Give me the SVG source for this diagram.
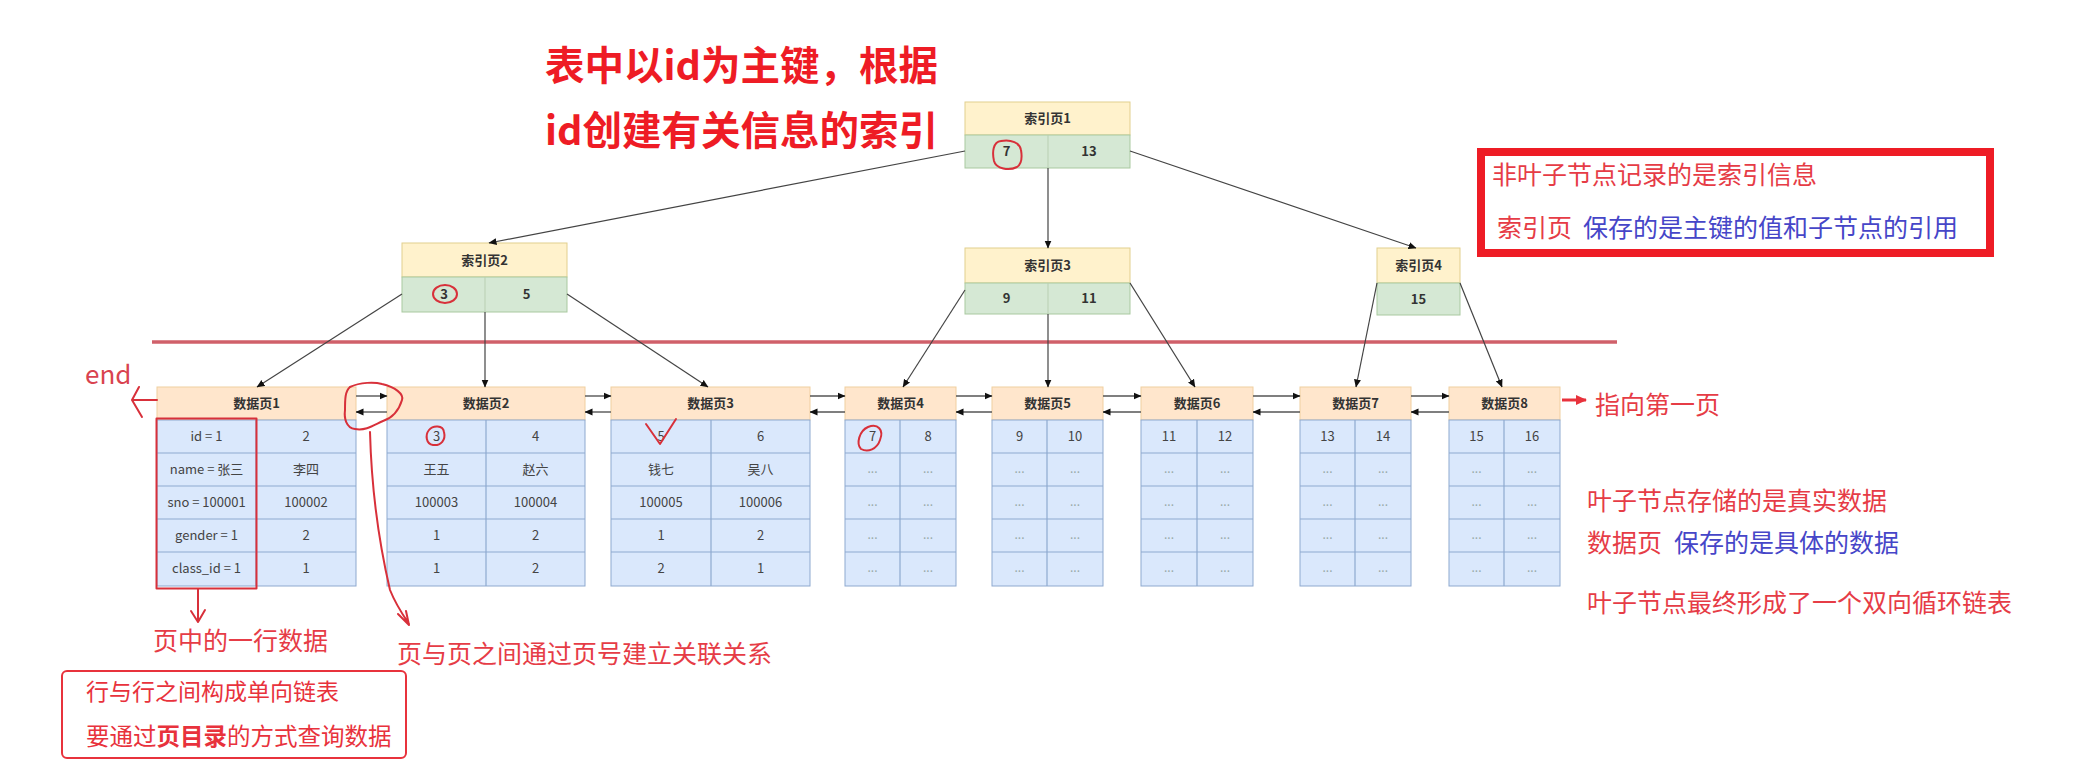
<svg xmlns="http://www.w3.org/2000/svg" width="2086" height="776" viewBox="0 0 2086 776">
<style>
text{font-family:"Noto Sans CJK SC","Liberation Sans",sans-serif}
.ih{fill:#fff2cc;stroke:#e2cf8e;stroke-width:1}
.ir{fill:#d5e8d4;stroke:#a9c9a0;stroke-width:1}
.dh{fill:#ffe6cc;stroke:#f0cfa0;stroke-width:1}
.dr{fill:#dae8fc;stroke:#8ea9cf;stroke-width:1}
.dl{stroke:#8ea9cf;stroke-width:1.2}
.il{stroke:#b9cfb2;stroke-width:1}
.ht{font-size:13px;font-weight:bold;fill:#333;text-anchor:middle}
.ct{font-size:13px;fill:#444;text-anchor:middle}
.it{font-size:13px;font-weight:bold;fill:#333;text-anchor:middle}
.dots{font-size:12px;fill:#9aa;text-anchor:middle}
.tree{stroke:#444;stroke-width:1.2;fill:none}
.link{stroke:#555;stroke-width:1.4;fill:none}
.ann{font-size:25px;fill:#e63c46}
.blue{font-size:25px;fill:#4646c8}
.mark{stroke:#d8303a;stroke-width:2;fill:none;stroke-linecap:round;stroke-linejoin:round}
.title{font-size:39.5px;font-weight:bold;fill:#ee1c25}
</style>
<defs>
<marker id="ah" markerWidth="8" markerHeight="8" refX="7.5" refY="4" orient="auto" markerUnits="userSpaceOnUse"><path d="M0,0.5 L8,4 L0,7.5 z" fill="#111"/></marker>
<marker id="rah" markerWidth="12" markerHeight="12" refX="10" refY="6" orient="auto" markerUnits="userSpaceOnUse"><path d="M0,1 L11,6 L0,11 z" fill="#e8323c"/></marker>
</defs>
<rect width="2086" height="776" fill="#ffffff"/>

<g id="title">
<text class="title" x="545" y="80">表中以id为主键，根据</text>
<text class="title" x="545" y="145">id创建有关信息的索引</text>
</g>

<line id="separator" x1="152" y1="342" x2="1617" y2="342" stroke="#d0606a" stroke-width="3.5"/>

<g id="index1">
<rect class="ih" x="965" y="102" width="165" height="33"/>
<rect class="ir" x="965" y="135" width="165" height="33"/>
<line class="il" x1="1048" y1="135" x2="1048" y2="168"/>
<text class="ht" x="1047.5" y="123">索引页1</text>
<text class="it" x="1006.5" y="156">7</text>
<text class="it" x="1089" y="156">13</text>
</g>
<g id="index2">
<rect class="ih" x="402" y="243" width="165" height="34"/>
<rect class="ir" x="402" y="277" width="165" height="35"/>
<line class="il" x1="485" y1="277" x2="485" y2="312"/>
<text class="ht" x="484.5" y="265">索引页2</text>
<text class="it" x="444" y="299">3</text>
<text class="it" x="526.5" y="299">5</text>
</g>
<g id="index3">
<rect class="ih" x="965" y="248" width="165" height="35"/>
<rect class="ir" x="965" y="283" width="165" height="31"/>
<line class="il" x1="1048" y1="283" x2="1048" y2="314"/>
<text class="ht" x="1047.5" y="270">索引页3</text>
<text class="it" x="1006.5" y="303">9</text>
<text class="it" x="1089" y="303">11</text>
</g>
<g id="index4">
<rect class="ih" x="1377" y="248" width="83" height="35"/>
<rect class="ir" x="1377" y="283" width="83" height="32"/>
<text class="ht" x="1418.5" y="270">索引页4</text>
<text class="it" x="1418.5" y="304">15</text>
</g>

<g id="data1">
<rect class="dh" x="157" y="387" width="199" height="33"/>
<rect class="dr" x="157" y="420" width="199" height="166"/>
<line class="dl" x1="157" y1="453" x2="356" y2="453"/><line class="dl" x1="157" y1="486" x2="356" y2="486"/><line class="dl" x1="157" y1="519" x2="356" y2="519"/><line class="dl" x1="157" y1="552" x2="356" y2="552"/>
<line class="dl" x1="256" y1="420" x2="256" y2="586"/>
<text class="ht" x="256.5" y="408">数据页1</text>
<text class="ct" x="206.5" y="441">id = 1</text><text class="ct" x="306" y="441">2</text>
<text class="ct" x="206.5" y="474">name = 张三</text><text class="ct" x="306" y="474">李四</text>
<text class="ct" x="206.5" y="507">sno = 100001</text><text class="ct" x="306" y="507">100002</text>
<text class="ct" x="206.5" y="540">gender = 1</text><text class="ct" x="306" y="540">2</text>
<text class="ct" x="206.5" y="573">class_id = 1</text><text class="ct" x="306" y="573">1</text>
</g>
<g id="data2">
<rect class="dh" x="387" y="387" width="198" height="33"/>
<rect class="dr" x="387" y="420" width="198" height="166"/>
<line class="dl" x1="387" y1="453" x2="585" y2="453"/><line class="dl" x1="387" y1="486" x2="585" y2="486"/><line class="dl" x1="387" y1="519" x2="585" y2="519"/><line class="dl" x1="387" y1="552" x2="585" y2="552"/>
<line class="dl" x1="486" y1="420" x2="486" y2="586"/>
<text class="ht" x="486" y="408">数据页2</text>
<text class="ct" x="436.5" y="441">3</text><text class="ct" x="535.5" y="441">4</text>
<text class="ct" x="436.5" y="474">王五</text><text class="ct" x="535.5" y="474">赵六</text>
<text class="ct" x="436.5" y="507">100003</text><text class="ct" x="535.5" y="507">100004</text>
<text class="ct" x="436.5" y="540">1</text><text class="ct" x="535.5" y="540">2</text>
<text class="ct" x="436.5" y="573">1</text><text class="ct" x="535.5" y="573">2</text>
</g>
<g id="data3">
<rect class="dh" x="611" y="387" width="199" height="33"/>
<rect class="dr" x="611" y="420" width="199" height="166"/>
<line class="dl" x1="611" y1="453" x2="810" y2="453"/><line class="dl" x1="611" y1="486" x2="810" y2="486"/><line class="dl" x1="611" y1="519" x2="810" y2="519"/><line class="dl" x1="611" y1="552" x2="810" y2="552"/>
<line class="dl" x1="711" y1="420" x2="711" y2="586"/>
<text class="ht" x="710.5" y="408">数据页3</text>
<text class="ct" x="661" y="441">5</text><text class="ct" x="760.5" y="441">6</text>
<text class="ct" x="661" y="474">钱七</text><text class="ct" x="760.5" y="474">吴八</text>
<text class="ct" x="661" y="507">100005</text><text class="ct" x="760.5" y="507">100006</text>
<text class="ct" x="661" y="540">1</text><text class="ct" x="760.5" y="540">2</text>
<text class="ct" x="661" y="573">2</text><text class="ct" x="760.5" y="573">1</text>
</g>
<g id="data4">
<rect class="dh" x="845" y="387" width="111" height="33"/>
<rect class="dr" x="845" y="420" width="111" height="166"/>
<line class="dl" x1="845" y1="453" x2="956" y2="453"/><line class="dl" x1="845" y1="486" x2="956" y2="486"/><line class="dl" x1="845" y1="519" x2="956" y2="519"/><line class="dl" x1="845" y1="552" x2="956" y2="552"/>
<line class="dl" x1="900" y1="420" x2="900" y2="586"/>
<text class="ht" x="900.5" y="408">数据页4</text>
<text class="ct" x="872.5" y="441">7</text><text class="ct" x="928" y="441">8</text>
<text class="dots" x="872.5" y="473">...</text><text class="dots" x="928" y="473">...</text>
<text class="dots" x="872.5" y="506">...</text><text class="dots" x="928" y="506">...</text>
<text class="dots" x="872.5" y="539">...</text><text class="dots" x="928" y="539">...</text>
<text class="dots" x="872.5" y="572">...</text><text class="dots" x="928" y="572">...</text>
</g>
<g id="data5">
<rect class="dh" x="992" y="387" width="111" height="33"/>
<rect class="dr" x="992" y="420" width="111" height="166"/>
<line class="dl" x1="992" y1="453" x2="1103" y2="453"/><line class="dl" x1="992" y1="486" x2="1103" y2="486"/><line class="dl" x1="992" y1="519" x2="1103" y2="519"/><line class="dl" x1="992" y1="552" x2="1103" y2="552"/>
<line class="dl" x1="1047" y1="420" x2="1047" y2="586"/>
<text class="ht" x="1047.5" y="408">数据页5</text>
<text class="ct" x="1019.5" y="441">9</text><text class="ct" x="1075" y="441">10</text>
<text class="dots" x="1019.5" y="473">...</text><text class="dots" x="1075" y="473">...</text>
<text class="dots" x="1019.5" y="506">...</text><text class="dots" x="1075" y="506">...</text>
<text class="dots" x="1019.5" y="539">...</text><text class="dots" x="1075" y="539">...</text>
<text class="dots" x="1019.5" y="572">...</text><text class="dots" x="1075" y="572">...</text>
</g>
<g id="data6">
<rect class="dh" x="1141" y="387" width="112" height="33"/>
<rect class="dr" x="1141" y="420" width="112" height="166"/>
<line class="dl" x1="1141" y1="453" x2="1253" y2="453"/><line class="dl" x1="1141" y1="486" x2="1253" y2="486"/><line class="dl" x1="1141" y1="519" x2="1253" y2="519"/><line class="dl" x1="1141" y1="552" x2="1253" y2="552"/>
<line class="dl" x1="1197" y1="420" x2="1197" y2="586"/>
<text class="ht" x="1197" y="408">数据页6</text>
<text class="ct" x="1169" y="441">11</text><text class="ct" x="1225" y="441">12</text>
<text class="dots" x="1169" y="473">...</text><text class="dots" x="1225" y="473">...</text>
<text class="dots" x="1169" y="506">...</text><text class="dots" x="1225" y="506">...</text>
<text class="dots" x="1169" y="539">...</text><text class="dots" x="1225" y="539">...</text>
<text class="dots" x="1169" y="572">...</text><text class="dots" x="1225" y="572">...</text>
</g>
<g id="data7">
<rect class="dh" x="1300" y="387" width="111" height="33"/>
<rect class="dr" x="1300" y="420" width="111" height="166"/>
<line class="dl" x1="1300" y1="453" x2="1411" y2="453"/><line class="dl" x1="1300" y1="486" x2="1411" y2="486"/><line class="dl" x1="1300" y1="519" x2="1411" y2="519"/><line class="dl" x1="1300" y1="552" x2="1411" y2="552"/>
<line class="dl" x1="1355" y1="420" x2="1355" y2="586"/>
<text class="ht" x="1355.5" y="408">数据页7</text>
<text class="ct" x="1327.5" y="441">13</text><text class="ct" x="1383" y="441">14</text>
<text class="dots" x="1327.5" y="473">...</text><text class="dots" x="1383" y="473">...</text>
<text class="dots" x="1327.5" y="506">...</text><text class="dots" x="1383" y="506">...</text>
<text class="dots" x="1327.5" y="539">...</text><text class="dots" x="1383" y="539">...</text>
<text class="dots" x="1327.5" y="572">...</text><text class="dots" x="1383" y="572">...</text>
</g>
<g id="data8">
<rect class="dh" x="1449" y="387" width="111" height="33"/>
<rect class="dr" x="1449" y="420" width="111" height="166"/>
<line class="dl" x1="1449" y1="453" x2="1560" y2="453"/><line class="dl" x1="1449" y1="486" x2="1560" y2="486"/><line class="dl" x1="1449" y1="519" x2="1560" y2="519"/><line class="dl" x1="1449" y1="552" x2="1560" y2="552"/>
<line class="dl" x1="1504" y1="420" x2="1504" y2="586"/>
<text class="ht" x="1504.5" y="408">数据页8</text>
<text class="ct" x="1476.5" y="441">15</text><text class="ct" x="1532" y="441">16</text>
<text class="dots" x="1476.5" y="473">...</text><text class="dots" x="1532" y="473">...</text>
<text class="dots" x="1476.5" y="506">...</text><text class="dots" x="1532" y="506">...</text>
<text class="dots" x="1476.5" y="539">...</text><text class="dots" x="1532" y="539">...</text>
<text class="dots" x="1476.5" y="572">...</text><text class="dots" x="1532" y="572">...</text>
</g>

<g id="connectors">
<line class="tree" x1="965" y1="151" x2="489" y2="243" marker-end="url(#ah)"/>
<line class="tree" x1="1048" y1="168" x2="1048" y2="248" marker-end="url(#ah)"/>
<line class="tree" x1="1130" y1="151" x2="1416" y2="248" marker-end="url(#ah)"/>
<line class="tree" x1="402" y1="294" x2="257" y2="387" marker-end="url(#ah)"/>
<line class="tree" x1="485" y1="312" x2="485" y2="387" marker-end="url(#ah)"/>
<line class="tree" x1="567" y1="294" x2="708" y2="387" marker-end="url(#ah)"/>
<line class="tree" x1="965" y1="290" x2="903" y2="387" marker-end="url(#ah)"/>
<line class="tree" x1="1048" y1="314" x2="1048" y2="387" marker-end="url(#ah)"/>
<line class="tree" x1="1130" y1="283" x2="1195" y2="387" marker-end="url(#ah)"/>
<line class="tree" x1="1377" y1="283" x2="1356" y2="387" marker-end="url(#ah)"/>
<line class="tree" x1="1460" y1="283" x2="1502" y2="387" marker-end="url(#ah)"/>

<line class="link" x1="356" y1="396" x2="387" y2="396" marker-end="url(#ah)"/>
<line class="link" x1="387" y1="412" x2="356" y2="412" marker-end="url(#ah)"/>
<line class="link" x1="585" y1="396" x2="611" y2="396" marker-end="url(#ah)"/>
<line class="link" x1="611" y1="412" x2="585" y2="412" marker-end="url(#ah)"/>
<line class="link" x1="810" y1="396" x2="845" y2="396" marker-end="url(#ah)"/>
<line class="link" x1="845" y1="412" x2="810" y2="412" marker-end="url(#ah)"/>
<line class="link" x1="956" y1="396" x2="992" y2="396" marker-end="url(#ah)"/>
<line class="link" x1="992" y1="412" x2="956" y2="412" marker-end="url(#ah)"/>
<line class="link" x1="1103" y1="396" x2="1141" y2="396" marker-end="url(#ah)"/>
<line class="link" x1="1141" y1="412" x2="1103" y2="412" marker-end="url(#ah)"/>
<line class="link" x1="1253" y1="396" x2="1300" y2="396" marker-end="url(#ah)"/>
<line class="link" x1="1300" y1="412" x2="1253" y2="412" marker-end="url(#ah)"/>
<line class="link" x1="1411" y1="396" x2="1449" y2="396" marker-end="url(#ah)"/>
<line class="link" x1="1449" y1="412" x2="1411" y2="412" marker-end="url(#ah)"/>
</g>

<g id="marks">
<path class="mark" d="M1001,141 C993,142 992,152 994,161 C996,169 1009,171 1017,167 C1022,164 1022,156 1021,150 C1020,143 1011,139 1001,141"/>
<ellipse class="mark" cx="445" cy="294" rx="12" ry="9"/>
<path class="mark" d="M429,430 C433,425 443,425 444,432 C446,440 441,446 433,445 C426,444 425,435 429,430"/>
<path class="mark" d="M646,424 L660,444 L676,419"/>
<path class="mark" d="M868,427 C878,423 884,430 880,440 C877,449 868,453 861,449 C856,444 859,431 868,427"/>
<rect class="mark" x="156.5" y="418.5" width="100" height="170" stroke-width="3"/>
<path class="mark" d="M198,589 L198,621 M191,611 L198,622 L205,610"/>
<path class="mark" d="M157,400 L133,400 M139,387 L132,400 L142,417"/>
<path class="mark" d="M350,387 C360,382 375,382 382,384 C395,387 404,394 402,400 C399,410 392,418 383,421 C374,425 366,431 355,429 C346,428 344,418 345,410 C345,400 345,391 350,387"/>
<path class="mark" d="M370,432 C371,470 376,530 390,590 C396,605 403,615 409,624 M398,614 L409,625 L406,611"/>
<path d="M1562,400 L1586,400" stroke="#e8323c" stroke-width="3" marker-end="url(#rah)"/>
</g>

<g id="notes">
<text x="85" y="384" font-family="Liberation Sans, sans-serif" font-size="26" fill="#d9434f">end</text>
<text class="ann" x="1595" y="414">指向第一页</text>
<rect x="1481" y="152" width="509" height="101" fill="none" stroke="#ee1c25" stroke-width="8"/>
<text class="ann" x="1492" y="184">非叶子节点记录的是索引信息</text>
<text class="ann" x="1497" y="237">索引页</text>
<text class="blue" x="1583" y="237">保存的是主键的值和子节点的引用</text>
<text class="ann" x="1587" y="510">叶子节点存储的是真实数据</text>
<text class="ann" x="1587" y="552">数据页</text>
<text class="blue" x="1674" y="552">保存的是具体的数据</text>
<text class="ann" x="1587" y="612">叶子节点最终形成了一个双向循环链表</text>
<text class="ann" x="153" y="650">页中的一行数据</text>
<text class="ann" x="397" y="663">页与页之间通过页号建立关联关系</text>
<rect x="62" y="671" width="344" height="87" rx="5" fill="none" stroke="#e8323c" stroke-width="2"/>
<text x="86" y="700" font-size="23" fill="#e8323c">行与行之间构成单向链表</text>
<text x="86" y="745" font-size="23.5" fill="#e8323c">要通过<tspan font-weight="bold">页目录</tspan>的方式查询数据</text>
</g>
</svg>
